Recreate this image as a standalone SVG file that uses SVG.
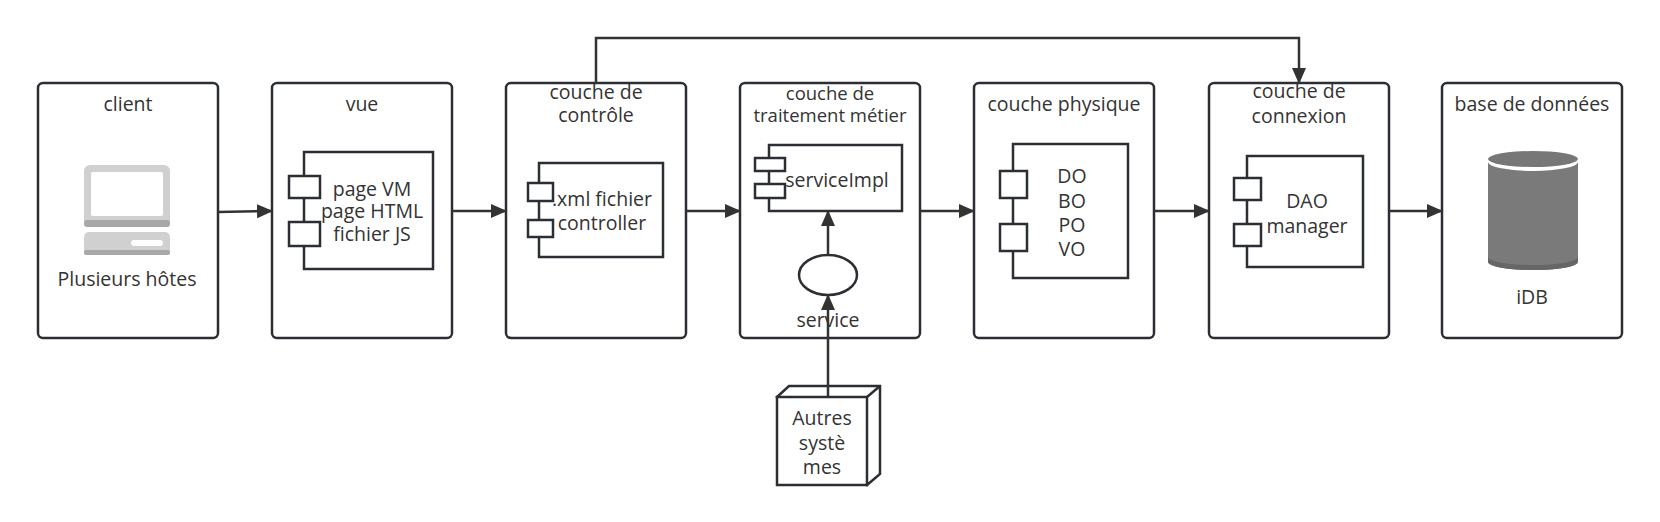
<svg xmlns="http://www.w3.org/2000/svg" width="1660" height="522" viewBox="0 0 1660 522">
<defs>
<marker id="ah" markerWidth="16" markerHeight="14" refX="15" refY="7" orient="auto" markerUnits="userSpaceOnUse"><path d="M0,0 L16,7 L0,14 Z" fill="#333"/></marker>
<style>
.box{fill:#fff;stroke:#2b2f33;stroke-width:2.5}
.cmp{fill:#fff;stroke:#2b2f33;stroke-width:2.5}
.t{font-family:"Open Sans","Noto Sans",sans-serif;font-size:19.5px;fill:#333;text-anchor:middle;dominant-baseline:central}
.s{font-size:18.5px}
.ln{fill:none;stroke:#333;stroke-width:2.5;marker-end:url(#ah)}
</style>
</defs>
<rect width="1660" height="522" fill="#fff"/>
<g id="client">
<rect class="box" x="38" y="83" width="180" height="255" rx="5"/>
<text class="t" x="128" y="103">client</text>
<rect x="84" y="165" width="86" height="62" rx="6" fill="#d0d0d0"/>
<rect x="84" y="220" width="86" height="7" rx="3" fill="#a8a8a8"/>
<rect x="91" y="172" width="72" height="44" rx="2" fill="#fff"/>
<rect x="84" y="232" width="86" height="23" rx="5" fill="#d0d0d0"/>
<rect x="84" y="250" width="86" height="5" rx="2" fill="#a8a8a8"/>
<rect x="131" y="240" width="32" height="6" rx="3" fill="#fff"/>
<text class="t" x="127" y="278">Plusieurs hôtes</text>
</g>
<g id="vue">
<rect class="box" x="272" y="83" width="180" height="255" rx="5"/>
<text class="t" x="362" y="103">vue</text>
<rect class="cmp" x="304" y="152" width="129" height="117"/>
<rect class="cmp" x="289" y="176" width="31" height="22"/>
<rect class="cmp" x="289" y="222" width="31" height="24"/>
<text class="t" x="372" y="188">page VM</text>
<text class="t" x="372" y="210">page HTML</text>
<text class="t" x="372" y="233">fichier JS</text>
</g>
<g id="controle">
<rect class="box" x="506" y="83" width="180" height="255" rx="5"/>
<text class="t" x="596" y="91">couche de</text>
<text class="t" x="596" y="114">contrôle</text>
<rect class="cmp" x="539" y="163" width="124" height="94"/>
<rect class="cmp" x="528" y="183" width="25" height="18"/>
<rect class="cmp" x="528" y="220" width="25" height="17"/>
<text class="t" x="602" y="198">.xml fichier</text>
<text class="t" x="602" y="222">controller</text>
</g>
<g id="metier">
<rect class="box" x="740" y="83" width="180" height="255" rx="5"/>
<text class="t s" x="830" y="92">couche de</text>
<text class="t s" x="830" y="114">traitement métier</text>
<rect class="cmp" x="769" y="145" width="133" height="66"/>
<rect class="cmp" x="755" y="158" width="30" height="13"/>
<rect class="cmp" x="755" y="184" width="30" height="14"/>
<text class="t" x="837" y="179">serviceImpl</text>
</g>
<g id="service">
<ellipse class="cmp" cx="828" cy="275" rx="29" ry="20"/>
<text class="t" x="828" y="319">service</text>
</g>
<g id="autres">
<path class="cmp" d="M777,397 L789,386 L880,386 L880,474 L867,485 Z"/>
<path fill="none" stroke="#2b2f33" stroke-width="2.5" d="M867,397 L880,386"/>
<rect class="cmp" x="777" y="397" width="90" height="88"/>
<text class="t" x="822" y="417">Autres</text>
<text class="t" x="822" y="442">systè</text>
<text class="t" x="822" y="466">mes</text>
</g>
<g id="physique">
<rect class="box" x="974" y="83" width="180" height="255" rx="5"/>
<text class="t" x="1064" y="103">couche physique</text>
<rect class="cmp" x="1013" y="144" width="115" height="134"/>
<rect class="cmp" x="1000" y="171" width="27" height="27"/>
<rect class="cmp" x="1000" y="224" width="27" height="27"/>
<text class="t" x="1072" y="175">DO</text>
<text class="t" x="1072" y="200">BO</text>
<text class="t" x="1072" y="224">PO</text>
<text class="t" x="1072" y="248">VO</text>
</g>
<g id="connexion">
<rect class="box" x="1209" y="83" width="180" height="255" rx="5"/>
<text class="t" x="1299" y="90">couche de</text>
<text class="t" x="1299" y="115">connexion</text>
<rect class="cmp" x="1247" y="156" width="116" height="111"/>
<rect class="cmp" x="1234" y="178" width="27" height="22"/>
<rect class="cmp" x="1234" y="224" width="27" height="22"/>
<text class="t" x="1307" y="200">DAO</text>
<text class="t" x="1307" y="225">manager</text>
</g>
<g id="db">
<rect class="box" x="1442" y="83" width="180" height="255" rx="5"/>
<text class="t" x="1532" y="103">base de données</text>
<path d="M1488,162 L1488,262 A45,8 0 0 0 1578,262 L1578,162 Z" fill="#7a7a7a"/>
<path d="M1488,262 A45,8 0 0 0 1578,262 L1578,257 A45,8 0 0 1 1488,257 Z" fill="#666"/>
<ellipse cx="1533" cy="162" rx="45" ry="9" fill="#fff"/>
<ellipse cx="1533" cy="159" rx="45" ry="8" fill="#777"/>
<text class="t" x="1532" y="296">iDB</text>
</g>
<g id="connectors">
<path class="ln" d="M218,212 L272,211"/>
<path class="ln" d="M452,211 L506,211"/>
<path class="ln" d="M686,211 L740,211"/>
<path class="ln" d="M920,211 L974,211"/>
<path class="ln" d="M1154,211 L1209,211"/>
<path class="ln" d="M1389,211 L1442,211"/>
<path class="ln" d="M596,83 L596,38 L1299,38 L1299,83"/>
<path class="ln" d="M828,255 L828,211"/>
<path class="ln" d="M828,397 L828,295"/>
</g>
</svg>
